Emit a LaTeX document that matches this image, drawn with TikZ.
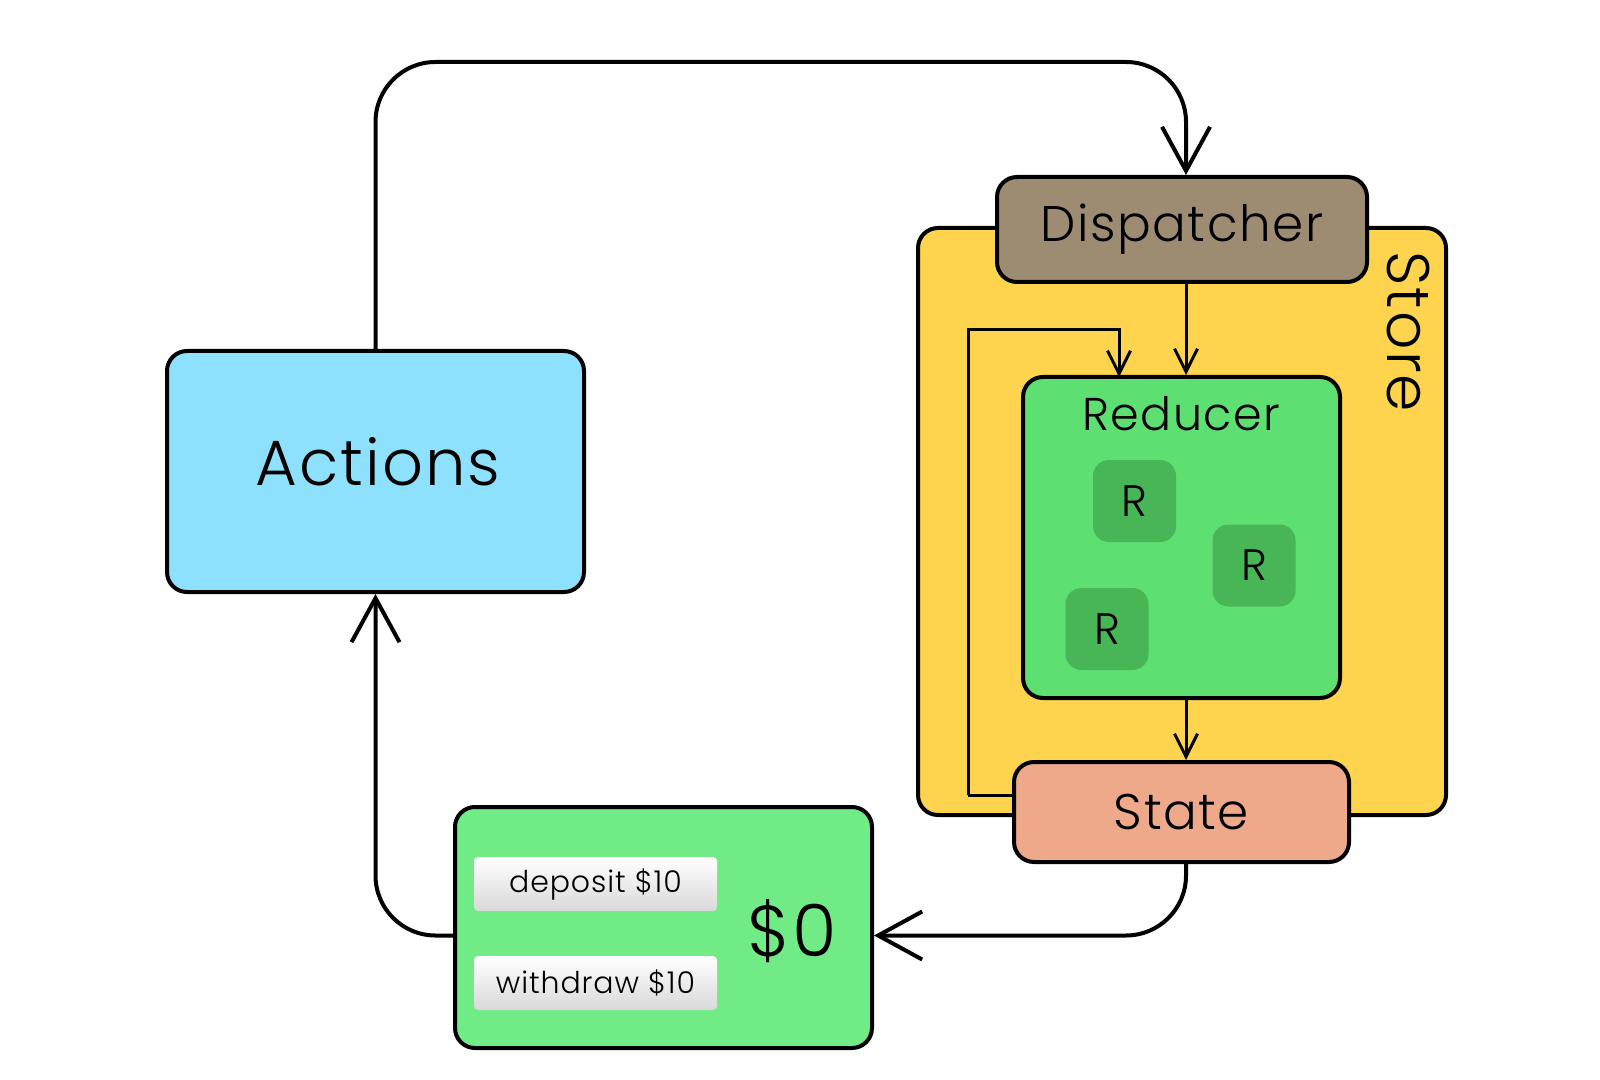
\documentclass[tikz,border=0pt]{standalone}
\usepackage{fontspec}
\IfFontExistsTF{Poppins Light}{\setmainfont{Poppins Light}[LetterSpace=3]}{\setmainfont{Poppins}[LetterSpace=3]}
\usetikzlibrary{arrows.meta}
\definecolor{actblue}{HTML}{8EE1FD}
\definecolor{dispbrown}{HTML}{9D8C72}
\definecolor{storeyellow}{HTML}{FED44F}
\definecolor{redgreen}{HTML}{5EDF72}
\definecolor{rgreen}{HTML}{48B556}
\definecolor{statepink}{HTML}{EEA98B}
\definecolor{appgreen}{HTML}{71EB85}
\begin{document}
\begin{tikzpicture}[x=0.5pt,y=-0.5pt,
    box/.style={draw,line width=2pt,rounded corners=10pt,inner sep=0pt},
    rbox/.style={fill=rgreen,rounded corners=8pt,minimum width=41.5pt,minimum height=41pt,font=\fontsize{22}{24}\selectfont},
    btn/.style={rounded corners=2pt,top color=white,bottom color=black!15,minimum width=121.5pt,minimum height=27pt,font=\fontsize{15}{17}\selectfont},
    bigarrow/.style={line width=2pt,-{Straight Barb[length=22pt,width=24pt]},rounded corners=30pt},
    smallarrow/.style={line width=1.5pt,-{Straight Barb[length=11.5pt,width=11.5pt]}}]
  \useasboundingbox (0,0) rectangle (1600,1080);
                        \node[box,fill=actblue,minimum width=208.5pt,minimum height=120.5pt] (act) at (375.5,471.5) {};
                        \node[font=\fontsize{32}{34}\selectfont] (actlbl) at (378,462) {Actions};
                        \node[box,fill=storeyellow,minimum width=264pt,minimum height=293.5pt] (store) at (1182,521.5) {};
                        \node[rotate=-90,font=\fontsize{30}{32}\selectfont] (storelbl) at (1408,332) {Store};
                        \node[box,fill=redgreen,minimum width=158.5pt,minimum height=160.5pt] (red) at (1181.5,537.5) {};
                        \node[font=\fontsize{23}{25}\selectfont] (redlbl) at (1181,414) {Reducer};
                        \node[rbox] (r1) at (1134.5,501) {R};
                        \node[rbox] (r2) at (1254,565.5) {R};
                        \node[rbox] (r3) at (1107,629) {R};
                        \node[box,fill=dispbrown,minimum width=185pt,minimum height=52.5pt,font=\fontsize{25}{27}\selectfont] (disp) at (1182,229.5) {Dispatcher};
                        \coordinate (fb) at (968,330);
                        \draw[smallarrow] (968,795) |- (fb) -| (1119,377);
                        \node[box,fill=statepink,minimum width=167.5pt,minimum height=50pt,font=\fontsize{25}{27}\selectfont] (state) at (1181.5,812) {State};
                        \draw[line width=1.5pt] (state.west |- 0,795) -- (968,795);
                        % the column of the flow sits a bit right of the box centres
                        \coordinate (col) at (1186,0);
                        \draw[smallarrow] (disp.south -| col) -- (red.north -| col);
                        \draw[smallarrow] (red.south -| col) -- (state.north -| col);
                        \node[box,fill=appgreen,minimum width=208.5pt,minimum height=120.5pt] (app) at (663.5,927.5) {};
                        \node[btn] (dep) at (595.5,884) {deposit \$10};
                        \node[btn] (wd) at (595.5,983) {withdraw \$10};
                        \node[font=\fontsize{36}{38}\selectfont] (bal) at (792,931) {\$0};
                        \coordinate (top) at (1186,62);
                        \draw[bigarrow] (act.north) |- (top) -- (disp.north -| col);
                        \draw[bigarrow] (state.south -| col) |- ([yshift=-4pt]app.east);
                        \draw[bigarrow] ([yshift=-4pt]app.west) -| (act.south);
                    \end{tikzpicture}
\end{document}
